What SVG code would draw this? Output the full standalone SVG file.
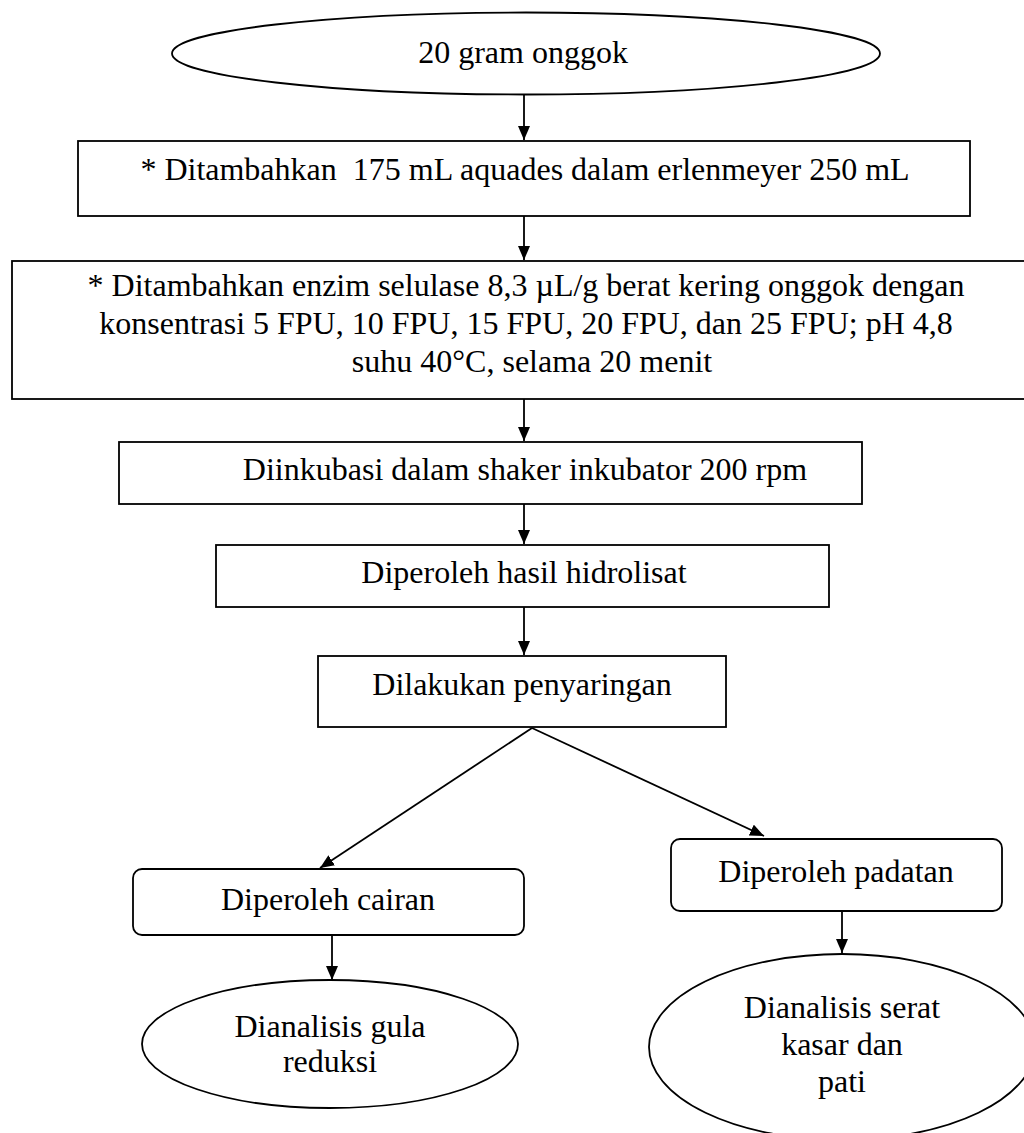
<svg xmlns="http://www.w3.org/2000/svg" width="1024" height="1133" viewBox="0 0 1024 1133">
<style>
.s{fill:#fff;stroke:#000;stroke-width:1.8}
.t{font-family:"Liberation Serif","Times New Roman",serif;font-size:32px;fill:#000;text-anchor:middle}
.c{stroke:#000;stroke-width:1.8;fill:none}
</style>
<defs>
<marker id="ah" markerUnits="userSpaceOnUse" markerWidth="14" markerHeight="12" refX="14" refY="6" orient="auto">
<path d="M0,0 L14,6 L0,12 z" fill="#000"/>
</marker>
</defs>
<rect width="1024" height="1133" fill="#fff"/>
<g id="n1"><ellipse class="s" cx="526" cy="53.5" rx="354" ry="41"/><text class="t" x="523" y="63">20 gram onggok</text></g>
<g id="n2"><rect class="s" x="78" y="141" width="892" height="75"/><text class="t" x="525" y="180" xml:space="preserve">* Ditambahkan  175 mL aquades dalam erlenmeyer 250 mL</text></g>
<g id="n3"><rect class="s" x="12" y="261" width="1030" height="138"/>
<text class="t" x="526" y="296">* Ditambahkan enzim selulase 8,3 µL/g berat kering onggok dengan</text>
<text class="t" x="526" y="334">konsentrasi 5 FPU, 10 FPU, 15 FPU, 20 FPU, dan 25 FPU; pH 4,8</text>
<text class="t" x="532" y="372">suhu 40°C, selama 20 menit</text></g>
<g id="n4"><rect class="s" x="119" y="442" width="743" height="62"/><text class="t" x="525" y="480">Diinkubasi dalam shaker inkubator 200 rpm</text></g>
<g id="n5"><rect class="s" x="216" y="545" width="613" height="62"/><text class="t" x="524" y="583">Diperoleh hasil hidrolisat</text></g>
<g id="n6"><rect class="s" x="318" y="656" width="408" height="71"/><text class="t" x="522" y="695">Dilakukan penyaringan</text></g>
<g id="n7"><rect class="s" x="133" y="869" width="391" height="66" rx="9"/><text class="t" x="328" y="910">Diperoleh cairan</text></g>
<g id="n8"><rect class="s" x="671" y="839" width="331" height="72" rx="9"/><text class="t" x="836" y="882">Diperoleh padatan</text></g>
<g id="n9"><ellipse class="s" cx="330" cy="1044" rx="188" ry="64"/><text class="t" x="330" y="1037">Dianalisis gula</text><text class="t" x="330" y="1072">reduksi</text></g>
<g id="n10"><ellipse class="s" cx="842" cy="1047" rx="193" ry="93"/><text class="t" x="842" y="1018">Dianalisis serat</text><text class="t" x="842" y="1055">kasar dan</text><text class="t" x="842" y="1092">pati</text></g>
<g id="connectors">
<line class="c" x1="524" y1="95" x2="524" y2="140" marker-end="url(#ah)"/>
<line class="c" x1="524" y1="216" x2="524" y2="260" marker-end="url(#ah)"/>
<line class="c" x1="524" y1="399" x2="524" y2="441" marker-end="url(#ah)"/>
<line class="c" x1="524" y1="504" x2="524" y2="544" marker-end="url(#ah)"/>
<line class="c" x1="524" y1="607" x2="524" y2="655" marker-end="url(#ah)"/>
<line class="c" x1="532" y1="728" x2="320" y2="868" marker-end="url(#ah)"/>
<line class="c" x1="532" y1="728" x2="764" y2="836" marker-end="url(#ah)"/>
<line class="c" x1="332" y1="935" x2="332" y2="980" marker-end="url(#ah)"/>
<line class="c" x1="842" y1="911" x2="842" y2="953" marker-end="url(#ah)"/>
</g>
</svg>
